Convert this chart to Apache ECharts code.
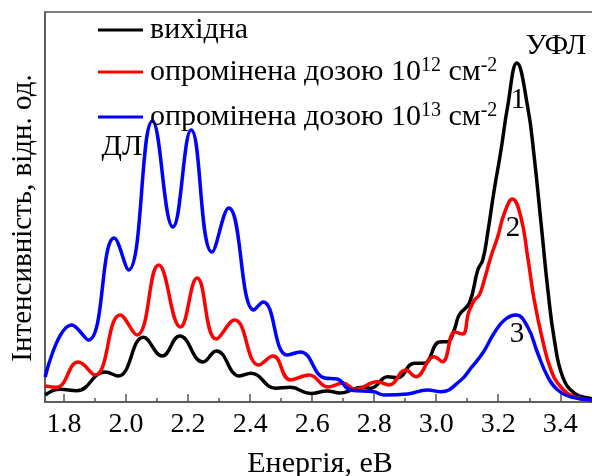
<!DOCTYPE html>
<html>
<head>
<meta charset="utf-8">
<script src="https://cdn.jsdelivr.net/npm/echarts@6/dist/echarts.min.js"></script>
<style>
html,body{margin:0;padding:0;background:#fff;}
#chart{width:592px;height:476px;}
</style>
</head>
<body>
<div id="chart"></div>
<script>
// ---- data (energy in eV, intensity in arbitrary units) ----
const seriesNames = ['вихідна', 'опромінена дозою 10¹² см⁻²', 'опромінена дозою 10¹³ см⁻²'];
const majorTicks = [1.8, 2.0, 2.2, 2.4, 2.6, 2.8, 3.0, 3.2, 3.4];
const minorTicks = [1.9, 2.1, 2.3, 2.5, 2.7, 2.9, 3.1, 3.3, 3.5];

const blackE = [1.739,1.787,1.841,1.932,1.975,2.056,2.116,2.173,2.248,2.291,2.366,2.403,2.482,2.530,2.595,2.649,2.690,2.762,2.789,2.843,2.875,2.929,2.961,3.010,3.036,3.058,3.074,3.107,3.134,3.150,3.166,3.187,3.209,3.230,3.260,3.295,3.316,3.338,3.360,3.381,3.408,3.446,3.494,3.512];
const blackI = [7,12.7,11.3,30,26,64.7,46,66,40,51,26,28.7,13.7,14.7,8.5,11,9,14.7,13.7,25.3,24.3,38.7,38.7,60,60.3,72,87,99,132,142,169,212,252,295,339,295,245,179,112,62,25,8.7,3.7,3];

const redE = [1.739,1.776,1.846,1.900,1.981,2.035,2.105,2.175,2.229,2.291,2.350,2.428,2.474,2.530,2.590,2.652,2.700,2.740,2.810,2.848,2.902,2.934,2.993,3.020,3.060,3.085,3.105,3.123,3.139,3.155,3.176,3.198,3.220,3.246,3.273,3.295,3.316,3.343,3.370,3.402,3.446,3.512];
const redI = [16,14.7,40,27,87,67,137,75,124,63,82,37,46,22,27,15,19,12.7,20.3,17,32,25.3,45.3,40.3,70,68,90,102,107,122,145,165,189,203,185,145,102,62,32,15,5,2];

const blueE = [1.739,1.825,1.879,1.962,2.008,2.085,2.151,2.210,2.277,2.331,2.412,2.442,2.519,2.562,2.640,2.681,2.724,2.799,2.832,2.907,2.972,3.015,3.080,3.112,3.150,3.187,3.220,3.257,3.295,3.327,3.360,3.392,3.435,3.512];
const blueI = [25,77,62,164,132,281,175,272,150,194,92,100,47,50,24,23,12,10.3,7,8,12,10.3,22,34,49,69,82,87,75,49,25,12,5,2];

const colors = ['#000000', '#ff0000', '#0000ff'];
const FONT = "'Liberation Serif', 'Times New Roman', serif";

function pairs(xs, ys){ return xs.map((x,i)=>[x, ys[i]]); }

const chart = echarts.init(document.getElementById('chart'));
const xMin = 1.7386, xMax = 3.512;

const richLegend = {
  a: {fontSize: 30, fontFamily: FONT, color: '#000', lineHeight: 32},
  s: {fontSize: 20, fontFamily: FONT, color: '#000', lineHeight: 32, verticalAlign: 'top'}
};
function legendFormatter(name){
  const i = seriesNames.indexOf(name);
  if (i === 0) return '{a|вихідна}';
  if (i === 1) return '{a|опромінена дозою 10}{s|12}{a| см}{s|-2}';
  return '{a|опромінена дозою 10}{s|13}{a| см}{s|-2}';
}
const legendTops = [15, 56, 101];
const legends = seriesNames.map((n, i) => ({
  orient: 'vertical', left: 98, top: legendTops[i], padding: 0, itemWidth: 45, itemHeight: 14,
  icon: 'path://M0,6 L45,6 L45,9 L0,9 Z',
  data: [n], formatter: legendFormatter, selectedMode: false,
  textStyle: {rich: richLegend, padding: [0,0,0,2]}
}));

chart.setOption({
  animation: false,
  backgroundColor: '#fff',
  grid: {left: 45, right: -3, top: 12, bottom: 74, show: true, borderColor: '#555', borderWidth: 1.5,
    containLabel: false, outerBoundsMode: 'none'},
  legend: legends,
  xAxis: [{
    type: 'value', min: xMin, max: xMax,
    name: 'Енергія, еВ', nameLocation: 'middle', nameGap: 47,
    nameTextStyle: {fontSize: 30, fontFamily: FONT, color: '#000'},
    axisLine: {show: true, lineStyle: {color: '#555', width: 1.5}},
    axisTick: {show: true, inside: true, length: 8, customValues: majorTicks, lineStyle: {color: '#555', width: 1.5}},
    axisLabel: {customValues: majorTicks, fontSize: 28, fontFamily: FONT, color: '#000', margin: 9,
      formatter: v => v.toFixed(1)},
    splitLine: {show: false}
  }, {
    type: 'value', min: xMin, max: xMax, position: 'bottom',
    axisLine: {show: false},
    axisTick: {show: true, inside: true, length: 4, customValues: minorTicks, lineStyle: {color: '#555', width: 1.5}},
    axisLabel: {show: false},
    splitLine: {show: false}
  }],
  yAxis: {
    type: 'value', min: 0, max: 390,
    axisLine: {show: true, lineStyle: {color: '#555', width: 1.5}},
    axisTick: {show: false}, axisLabel: {show: false}, splitLine: {show: false}
  },
  graphic: [
    {type: 'text', x: 23, y: 218, rotation: Math.PI/2,
      style: {text: 'Інтенсивність, відн. од.', font: '29px ' + FONT, fill: '#000', align: 'center', verticalAlign: 'middle'}},
    {type: 'text', x: 122, y: 147, style: {text: 'ДЛ', font: '30px ' + FONT, fill: '#000', align: 'center', verticalAlign: 'middle'}},
    {type: 'text', x: 556, y: 46, style: {text: 'УФЛ', font: '30px ' + FONT, fill: '#000', align: 'center', verticalAlign: 'middle'}},
    {type: 'text', x: 518, y: 100, style: {text: '1', font: '29px ' + FONT, fill: '#000', align: 'center', verticalAlign: 'middle'}},
    {type: 'text', x: 513, y: 228, style: {text: '2', font: '29px ' + FONT, fill: '#000', align: 'center', verticalAlign: 'middle'}},
    {type: 'text', x: 517, y: 334, style: {text: '3', font: '29px ' + FONT, fill: '#000', align: 'center', verticalAlign: 'middle'}}
  ],
  series: [
    {name: seriesNames[0], type: 'line', data: pairs(blackE, blackI), symbol: 'none', smooth: 0.45,
      lineStyle: {color: colors[0], width: 3.5}, itemStyle: {color: colors[0]}, clip: true},
    {name: seriesNames[1], type: 'line', data: pairs(redE, redI), symbol: 'none', smooth: 0.45,
      lineStyle: {color: colors[1], width: 3.5}, itemStyle: {color: colors[1]}, clip: true},
    {name: seriesNames[2], type: 'line', data: pairs(blueE, blueI), symbol: 'none', smooth: 0.45,
      lineStyle: {color: colors[2], width: 3.5}, itemStyle: {color: colors[2]}, clip: true}
  ]
});
</script>
</body>
</html>
